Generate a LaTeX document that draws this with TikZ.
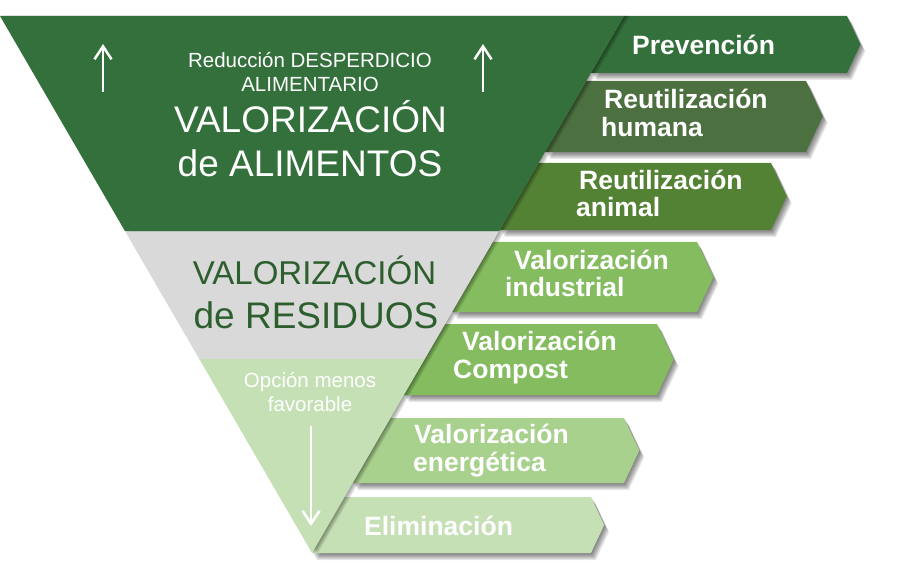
\documentclass[tikz,border=0pt]{standalone}
\usepackage{fontspec}
\setmainfont{Liberation Sans}
\usetikzlibrary{arrows.meta}

\definecolor{verdeA}{HTML}{33703B}
\definecolor{verdeB}{HTML}{4C7040}
\definecolor{verdeC}{HTML}{548235}
\definecolor{verdeD}{HTML}{84BC5F}
\definecolor{verdeE}{HTML}{A9D18E}
\definecolor{verdeF}{HTML}{C5E0B4}
\definecolor{grisR}{HTML}{D9D9D9}
\definecolor{textoR}{HTML}{2D5F2E}

\tikzset{
  etiqueta/.style={anchor=base west,inner sep=0pt,text=white,font=\bfseries\fontsize{26.5}{28}\selectfont},
  chico/.style={anchor=base,inner sep=0pt,text=white,font=\fontsize{20.5}{24}\selectfont},
  grande/.style={anchor=base,inner sep=0pt,font=\fontsize{37}{44}\selectfont},
  flecha/.style={white,line width=2.5pt,-{Straight Barb[length=13pt,width=17pt,line width=2.5pt]}}
}

% one level: top, bottom, right edge, colour
\newcommand{\nivel}[4]{%
  \pgfmathsetmacro\ymed{(#1+#2)/2}
  \pgfmathsetmacro\xpunta{#3+0.47*(#2-#1)/2}
  \foreach \d in {1,...,7}
    \fill[black,opacity=0.085,shift={(0.7*\d,\d)}] ({borde(#1)},#1) -- (#3,#1) -- (\xpunta,\ymed) -- (#3,#2) -- ({borde(#2)},#2) -- cycle;
  \fill[#4] ({borde(#1)},#1) -- (#3,#1) -- (\xpunta,\ymed) -- (#3,#2) -- ({borde(#2)},#2) -- cycle;
}

\begin{document}
\begin{tikzpicture}[x=1pt,y=-1pt,
  declare function={borde(\t)=624-0.581*(\t-16); izq(\t)=0.581*(\t-16);}]
	\useasboundingbox (0,0) rectangle (900,572);
	\def\ya{231.5}
	\def\yb{359}
	% levels
	\nivel{16}{73}{847}{verdeA}
	\nivel{81}{152}{806}{verdeB}
	\nivel{163}{230}{771}{verdeC}
	\nivel{242}{312}{697}{verdeD}
	\nivel{324}{395}{657}{verdeD}
	\nivel{418}{483}{624}{verdeE}
	\nivel{497}{553}{591}{verdeF}
	% triangle
	\foreach \d in {1,...,6}
		\fill[black,opacity=0.07,shift={(\d,0)}] (0,16) -- (624,16) -- (312,553) -- cycle;
	\fill[verdeA] (0,16) -- (624,16) -- ({borde(\ya)},\ya) -- ({izq(\ya)},\ya) -- cycle;
	\fill[grisR] ({izq(\ya)},\ya) -- ({borde(\ya)},\ya) -- ({borde(\yb)},\yb) -- ({izq(\yb)},\yb) -- cycle;
	\fill[verdeF] ({izq(\yb)},\yb) -- ({borde(\yb)},\yb) -- (312,553) -- cycle;
	% texts in the triangle
	\node[chico] (reduccion) at (310,68) {Reducción DESPERDICIO};
	\node[chico] (alimentario) at (310,92) {ALIMENTARIO};
	\node[grande,text=white] (valA) at (310.5,133) {VALORIZACIÓN};
	\node[grande,text=white] (alim) at (310,177) {de ALIMENTOS};
	\node[grande,text=textoR,font=\fontsize{33}{40}\selectfont] (valR) at (314.5,285) {VALORIZACIÓN};
	\node[grande,text=textoR] (resid) at (316,328) {de RESIDUOS};
	\node[chico] (opcion) at (310,387) {Opción menos};
	\node[chico] (favor) at (310,411) {favorable};
	\coordinate (upA1) at (103,92);
	\coordinate (upA2) at (103,44);
	\coordinate (upB1) at (483,92);
	\coordinate (upB2) at (483,44);
	\coordinate (dn1) at (311,426);
	\coordinate (dn2) at (311,526);
	\draw[flecha] (upA1) -- (upA2);
	\draw[flecha] (upB1) -- (upB2);
	\draw[flecha] (dn1) -- (dn2);
	% labels of the levels
	\node[etiqueta] (prev) at (632,55) {Prevención};
	\node[etiqueta] (humA) at (604,109) {Reutilización};
	\node[etiqueta] (humB) at (601,137) {humana};
	\node[etiqueta] (aniA) at (579,190) {Reutilización};
	\node[etiqueta] (aniB) at (576,217) {animal};
	\node[etiqueta] (indA) at (514,270) {Valorización};
	\node[etiqueta] (indB) at (505,297) {industrial};
	\node[etiqueta] (comA) at (462,350) {Valorización};
	\node[etiqueta] (comB) at (453,378) {Compost};
	\node[etiqueta] (eneA) at (414,443) {Valorización};
	\node[etiqueta] (eneB) at (413,471) {energética};
	\node[etiqueta] (elim) at (364,535) {Eliminación};
\end{tikzpicture}
\end{document}
